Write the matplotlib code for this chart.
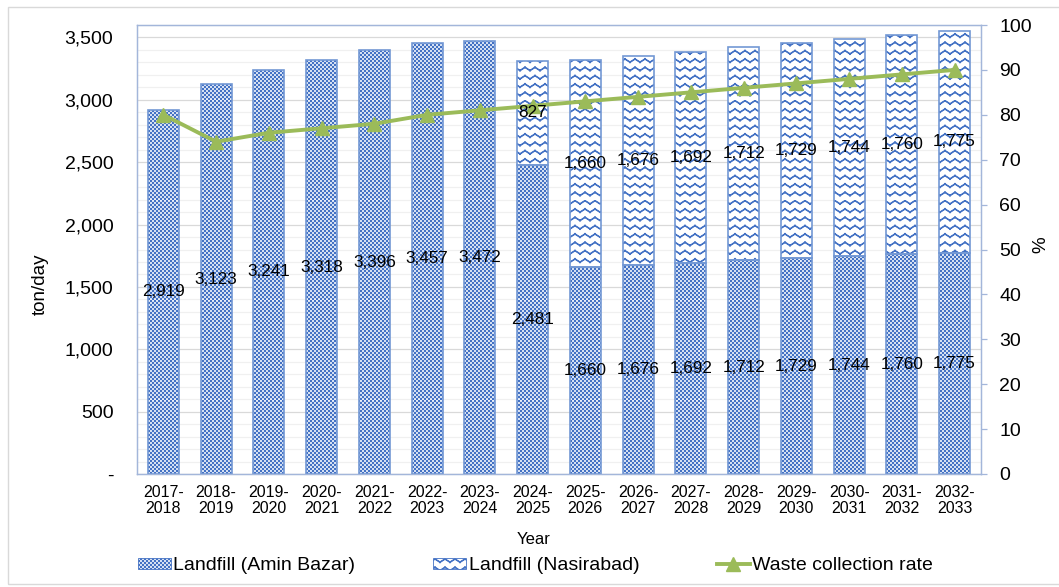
import warnings
warnings.filterwarnings('ignore')

import numpy as np
import matplotlib
matplotlib.use('Agg')
import matplotlib.pyplot as plt
import matplotlib.hatch as mhatch
import matplotlib.patches as mpatches
from matplotlib.lines import Line2D
from matplotlib.path import Path

# ---------------------------------------------------------------- data
years = ['2017-\n2018', '2018-\n2019', '2019-\n2020', '2020-\n2021',
         '2021-\n2022', '2022-\n2023', '2023-\n2024', '2024-\n2025',
         '2025-\n2026', '2026-\n2027', '2027-\n2028', '2028-\n2029',
         '2029-\n2030', '2030-\n2031', '2031-\n2032', '2032-\n2033']
amin_bazar = [2919, 3123, 3241, 3318, 3396, 3457, 3472, 2481,
              1660, 1676, 1692, 1712, 1729, 1744, 1760, 1775]
nasirabad = [0, 0, 0, 0, 0, 0, 0, 827,
             1660, 1676, 1692, 1712, 1729, 1744, 1760, 1775]
collection_rate = [80, 74, 76, 77, 78, 80, 81, 82,
                   83, 84, 85, 86, 87, 88, 89, 90]
left_ticks = [0, 500, 1000, 1500, 2000, 2500, 3000, 3500]
left_tick_labels = ['-', '500', '1,000', '1,500', '2,000', '2,500', '3,000', '3,500']
right_ticks = [0, 10, 20, 30, 40, 50, 60, 70, 80, 90, 100]

BLUE = '#4472C4'
EDGE = '#7398D4'
GREEN = '#9BBB59'
AXIS = '#A3B6DA'
FONT = 'Liberation Sans'


# ------------------------------------------------------- fill patterns
class CheckerHatch(mhatch.HatchPatternBase):
    """Small checkerboard fill, selected with 'c' in a hatch string."""
    cells = 50

    def __init__(self, hatch, density):
        on = hatch.count('c') > 0
        self.num_vertices = (self.cells * self.cells // 2) * 5 if on else 0

    def set_vertices_and_codes(self, vertices, codes):
        n = self.cells
        s = 1.0 / n
        ii, jj = np.meshgrid(np.arange(n), np.arange(n), indexing='ij')
        keep = (ii + jj) % 2 == 0
        q = s / 4.5          # the hatch stroke grows each square to its cell
        x0 = ii[keep] * s + q
        y0 = jj[keep] * s + q
        w = s - 2 * q
        corners = np.array([[0, 0], [1, 0], [1, 1], [0, 1], [0, 0]]) * w
        pts = np.stack([x0, y0], axis=1)[:, None, :] + corners[None]
        vertices[:] = pts.reshape(-1, 2)
        c = np.full((x0.size, 5), Path.LINETO, dtype=Path.code_type)
        c[:, 0] = Path.MOVETO
        c[:, 4] = Path.CLOSEPOLY
        codes[:] = c.ravel()


class WaveHatch(mhatch.HatchPatternBase):
    """Rows of small zigzag waves, selected with 'w' in a hatch string."""
    rows = 12
    periods = 10

    def __init__(self, hatch, density):
        on = hatch.count('w') > 0
        self.num_vertices = self.rows * self.periods * 2 * 5 if on else 0

    def set_vertices_and_codes(self, vertices, codes):
        amp = 0.032
        t = 0.006            # band thickness added to the stroke
        half = 0.5 / self.periods
        pts = []
        for r in range(self.rows):
            y = (r + 0.5) / self.rows
            for k in range(self.periods):
                x = k / self.periods
                for (xa, ya), (xb, yb) in (((x, y), (x + half, y + amp)),
                                           ((x + half, y + amp), (x + 2 * half, y))):
                    pts += [(xa, ya), (xb, yb), (xb, yb + t), (xa, ya + t), (xa, ya)]
        vertices[:] = np.array(pts)
        c = np.full((len(pts) // 5, 5), Path.LINETO, dtype=Path.code_type)
        c[:, 0] = Path.MOVETO
        c[:, 4] = Path.CLOSEPOLY
        codes[:] = c.ravel()


mhatch._hatch_types.append(CheckerHatch)
mhatch._hatch_types.append(WaveHatch)

plt.rcParams['font.family'] = [FONT, 'DejaVu Sans']
plt.rcParams['hatch.linewidth'] = 0.8

# ---------------------------------------------------------------- figure
fig = plt.figure(figsize=(10.59, 5.87), dpi=100)
W, H = 1059, 587
ax = fig.add_axes([137 / W, 1 - 474 / H, (981 - 137) / W, (474 - 25) / H])
ax2 = ax.twinx()

x = np.arange(len(years))
bw = 0.59

ax.bar(x, amin_bazar, width=bw, facecolor='white', edgecolor=BLUE,
       linewidth=0, hatch='c', zorder=2)
ax.bar(x, amin_bazar, width=bw, facecolor='none', edgecolor=EDGE,
       linewidth=1.2, zorder=3)
ax.bar(x, nasirabad, width=bw, bottom=amin_bazar, facecolor='white',
       edgecolor=BLUE, linewidth=0, hatch='w', zorder=2)
ax.bar(x, nasirabad, width=bw, bottom=amin_bazar, facecolor='none',
       edgecolor=EDGE, linewidth=[1.2 if v > 0 else 0 for v in nasirabad],
       zorder=3)

ax2.plot(x, collection_rate, color=GREEN, linewidth=2.8, marker='^',
         markersize=10, zorder=4)

# value labels at the middle of each segment
for i, (a, n) in enumerate(zip(amin_bazar, nasirabad)):
    ax2.text(i, a / 2, f'{a:,}', transform=ax.transData, ha='center',
             va='center', fontsize=12.3, color='black', zorder=6)
    if n > 0:
        ax2.text(i, a + n / 2, f'{n:,}', transform=ax.transData, ha='center',
                 va='center', fontsize=12.3, color='black', zorder=6)

# axes
ax.set_xlim(-0.5, len(years) - 0.5)
ax.set_ylim(0, 3600)
ax2.set_ylim(0, 100)

ax.set_yticks(left_ticks)
ax.set_yticklabels(left_tick_labels)
ax.set_yticks(np.arange(0, 3601, 100), minor=True)
ax.set_axisbelow(True)
ax.yaxis.grid(True, which='major', color='#D9D9D9', linewidth=0.9)
ax.yaxis.grid(True, which='minor', color='#F0F0F0', linewidth=0.9)
ax.tick_params(axis='y', which='both', length=0, pad=17, labelsize=14)
ax.set_xticks(x)
ax.set_xticklabels(years, fontsize=11.5, linespacing=1.05)
ax.tick_params(axis='x', length=0, pad=8)

ax2.set_yticks(right_ticks)
ax2.tick_params(axis='y', length=4, width=0.9, color=AXIS, pad=9, labelsize=14)

for a in (ax, ax2):
    for s in a.spines.values():
        s.set_color(AXIS)
        s.set_linewidth(0.9)

fig.text(40 / W, 1 - 284 / H, 'ton/day', rotation=90, ha='center',
         va='center', fontsize=13.5)
fig.text(1041 / W, 1 - 245 / H, '%', rotation=90, ha='center',
         va='center', fontsize=13.5)
fig.text(534 / W, 1 - 539 / H, 'Year', ha='center', va='center', fontsize=12)

handles = [
    mpatches.Patch(facecolor='white', edgecolor=BLUE, hatch='c', linewidth=0.6),
    mpatches.Patch(facecolor='white', edgecolor=BLUE, hatch='w', linewidth=0.6),
    Line2D([], [], color=GREEN, linewidth=2.8, marker='^', markersize=10),
]
labels = ['Landfill (Amin Bazar)', 'Landfill (Nasirabad)', 'Waste collection rate']
fig.legend(handles, labels, loc='center left',
           bbox_to_anchor=(138 / W, 1 - 566 / H), ncol=3, frameon=False,
           borderpad=0, borderaxespad=0, handlelength=1.7, handleheight=0.55,
           handletextpad=0.12, columnspacing=4.0, fontsize=14)

# outer chart border
fig.add_artist(mpatches.Rectangle((8 / W, 1 - 584 / H), 1.1, (584 - 7) / H,
                                  transform=fig.transFigure, fill=False,
                                  edgecolor='#D9D9D9', linewidth=1.0))

fig.savefig('out.png', dpi=100)
